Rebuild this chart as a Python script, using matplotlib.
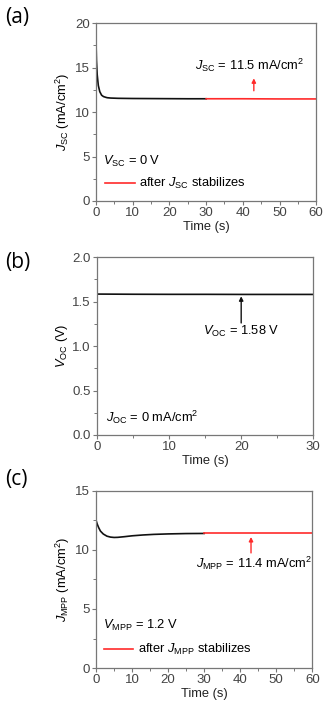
import numpy as np
import matplotlib
matplotlib.use('Agg')
from matplotlib import pyplot as plt

plt.rcParams['font.family'] = ['Liberation Sans', 'DejaVu Sans']
plt.rcParams['mathtext.fontset'] = 'custom'
plt.rcParams['mathtext.rm'] = 'Liberation Sans'
plt.rcParams['mathtext.it'] = 'Liberation Sans:italic'

# (a) short-circuit current vs time
t_a_black = [0, 0.1, 0.3, 0.6, 1.0, 1.5, 2.0, 2.5, 3.0, 4.0, 6.0, 10, 15, 20, 25, 30]
j_a_black = [17.5, 15.8, 14.2, 13.0, 12.3, 11.9, 11.75, 11.68, 11.62, 11.58, 11.55, 11.53, 11.52, 11.51, 11.5, 11.5]
t_a_red = [30, 40, 50, 60]
j_a_red = [11.5, 11.5, 11.48, 11.48]

# (b) open-circuit voltage vs time
t_b = [0, 5, 10, 15, 20, 25, 30]
v_b = [1.585, 1.583, 1.582, 1.582, 1.581, 1.581, 1.581]

# (c) max power point current vs time
t_c_black = [0, 0.3, 0.7, 1.2, 2.0, 3.0, 4.0, 5.0, 6.0, 8.0, 10, 13, 16, 20, 25, 30]
j_c_black = [12.5, 12.2, 11.9, 11.6, 11.35, 11.17, 11.09, 11.06, 11.07, 11.13, 11.2, 11.27, 11.32, 11.36, 11.39, 11.4]
t_c_red = [30, 40, 50, 60]
j_c_red = [11.4, 11.4, 11.4, 11.4]

fig = plt.figure(figsize=(3.28, 7.14), dpi=100)

spine_c = '#777777'
tick_c = '#444444'
red = '#ff2a2a'
fs = 9.3

def style(ax, xmax, ymax, ystep, yfmt):
    ax.set_xlim(0, xmax)
    ax.set_ylim(0, ymax)
    ax.set_xticks(np.arange(0, xmax + 1, 10))
    ax.set_xticks(np.arange(5, xmax, 10), minor=True)
    ax.set_yticks(np.arange(0, ymax + ystep / 2, ystep))
    ax.set_yticks(np.arange(ystep / 2, ymax, ystep), minor=True)
    ax.set_yticklabels([yfmt % v for v in np.arange(0, ymax + ystep / 2, ystep)])
    for s in ax.spines.values():
        s.set_color(spine_c)
        s.set_linewidth(0.9)
    ax.tick_params(which='major', direction='out', length=3, width=0.8, color=spine_c,
                   labelsize=9.5, labelcolor=tick_c, pad=1.5)
    ax.tick_params(which='minor', direction='out', length=2, width=0.7, color=spine_c)
    ax.set_xlabel('Time (s)', fontsize=fs, labelpad=1, color='#222222')

def arrow(ax, x, y0, y1, c):
    ax.annotate('', xy=(x, y1), xytext=(x, y0),
                arrowprops=dict(arrowstyle='-|>', color=c, lw=1, mutation_scale=6,
                                shrinkA=0, shrinkB=0))

# ---- (a)
ax1 = fig.add_axes([0.293, 0.7185, 0.671, 0.249])
ax1.plot(t_a_black, j_a_black, color='#111111', lw=1.2)
ax1.plot(t_a_red, j_a_red, color=red, lw=1.2)
style(ax1, 60, 20, 5, '%d')
ax1.set_ylabel(r'$J_{\rm SC}$ (mA/cm$^2$)', fontsize=fs, labelpad=2)
ax1.text(27, 15.3, r'$J_{\rm SC}$ = 11.5 mA/cm$^2$', fontsize=fs, va='center')
arrow(ax1, 43, 12.4, 13.8, red)
ax1.text(2, 4.5, r'$V_{\rm SC}$ = 0 V', fontsize=fs, va='center')
ax1.plot([2.5, 10.5], [2.0, 2.0], color=red, lw=1.2)
ax1.text(11.7, 2.0, r'after $J_{\rm SC}$ stabilizes', fontsize=fs, va='center')
fig.text(0.015, 0.975, '(a)', fontsize=15, va='center', family='Open Sans')

# ---- (b)
ax2 = fig.add_axes([0.296, 0.3908, 0.659, 0.249])
ax2.plot(t_b, v_b, color='#111111', lw=1.2)
style(ax2, 30, 2.0, 0.5, '%.1f')
ax2.set_ylabel(r'$V_{\rm OC}$ (V)', fontsize=fs, labelpad=2)
arrow(ax2, 20, 1.26, 1.56, '#111111')
ax2.text(20, 1.17, r'$V_{\rm OC}$ = 1.58 V', fontsize=fs, va='center', ha='center')
ax2.text(1.2, 0.2, r'$J_{\rm OC}$ = 0 mA/cm$^2$', fontsize=fs, va='center')
fig.text(0.015, 0.633, '(b)', fontsize=15, va='center', family='Open Sans')

# ---- (c)
ax3 = fig.add_axes([0.293, 0.0644, 0.659, 0.248])
ax3.plot(t_c_black, j_c_black, color='#111111', lw=1.2)
ax3.plot(t_c_red, j_c_red, color=red, lw=1.2)
style(ax3, 60, 15, 5, '%d')
ax3.set_ylabel(r'$J_{\rm MPP}$ (mA/cm$^2$)', fontsize=fs, labelpad=2)
arrow(ax3, 43, 9.75, 11.1, red)
ax3.text(27.8, 8.9, r'$J_{\rm MPP}$ = 11.4 mA/cm$^2$', fontsize=fs, va='center')
ax3.text(2, 3.6, r'$V_{\rm MPP}$ = 1.2 V', fontsize=fs, va='center')
ax3.plot([2.2, 10.3], [1.6, 1.6], color=red, lw=1.2)
ax3.text(11.5, 1.6, r'after $J_{\rm MPP}$ stabilizes', fontsize=fs, va='center')
fig.text(0.015, 0.328, '(c)', fontsize=15, va='center', family='Open Sans')

fig.savefig('out.png', dpi=100)
